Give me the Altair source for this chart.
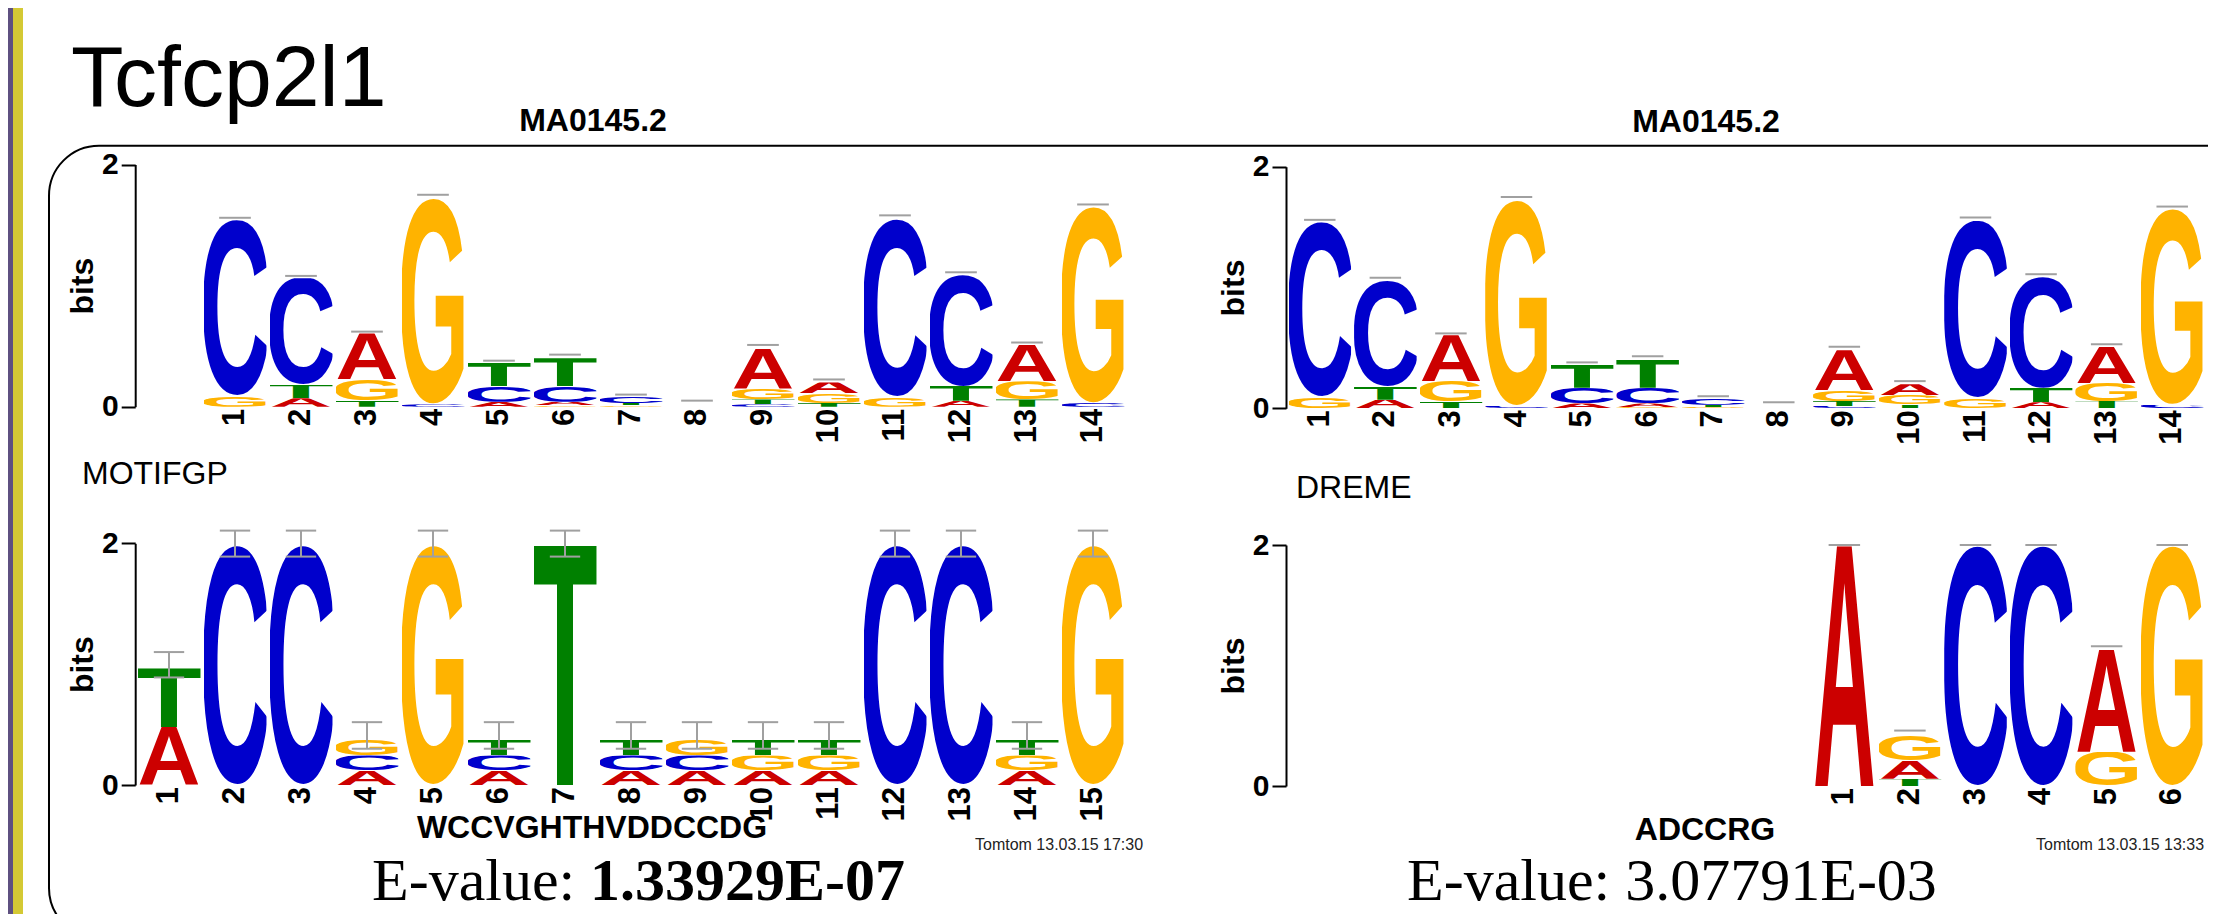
import base64
import altair as alt
import pandas as pd

# ---------------- data ----------------
LETTERS = ["A", "C", "G", "T"]

# JASPAR MA0145.2 (Tcfcp2l1) - information (bits) per letter, positions 1..14
MA_POS = list(range(1, 15))
MA_A = [0.00, 0.07, 0.38, 0.00, 0.04, 0.03, 0.00, 0.00, 0.33, 0.09, 0.00, 0.05, 0.30, 0.00]
MA_C = [1.45, 0.88, 0.00, 0.02, 0.13, 0.13, 0.05, 0.00, 0.02, 0.00, 1.47, 0.92, 0.00, 0.03]
MA_G = [0.09, 0.00, 0.17, 1.70, 0.00, 0.01, 0.01, 0.00, 0.09, 0.08, 0.08, 0.00, 0.15, 1.62]
MA_T = [0.00, 0.11, 0.055, 0.00, 0.19, 0.23, 0.02, 0.00, 0.04, 0.03, 0.00, 0.12, 0.06, 0.00]
MA_ERR = [1.56, 1.08, 0.62, 1.75, 0.38, 0.43, 0.10, 0.05, 0.51, 0.225, 1.58, 1.11, 0.53, 1.67]

# MOTIFGP query motif WCCVGHTHVDDCCDG, positions 1..15
MG_POS = list(range(1, 16))
MG_A = [0.48, 0, 0, 0.12, 0, 0.12, 0, 0.12, 0.12, 0.12, 0.12, 0, 0, 0.12, 0]
MG_C = [0, 1.98, 1.98, 0.125, 0, 0.125, 0, 0.125, 0.125, 0, 0, 1.98, 1.98, 0, 0]
MG_G = [0, 0, 0, 0.135, 1.98, 0, 0, 0, 0.13, 0.125, 0.125, 0, 0, 0.125, 1.98]
MG_T = [0.49, 0, 0, 0, 0, 0.13, 1.98, 0.13, 0, 0.13, 0.13, 0, 0, 0.13, 0]
MG_LO = [0.89, 1.89, 1.89, 0.30, 1.89, 0.30, 1.89, 0.30, 0.30, 0.30, 0.30, 1.89, 1.89, 0.30, 1.89]
MG_HI = [1.10, 2.105, 2.105, 0.52, 2.105, 0.52, 2.105, 0.52, 0.52, 0.52, 0.52, 2.105, 2.105, 0.52, 2.105]

# DREME query motif ADCCRG, positions 1..6
DR_POS = list(range(1, 7))
DR_A = [1.99, 0.15, 0, 0, 0.85, 0]
DR_C = [0, 0, 1.99, 1.99, 0, 0]
DR_G = [0, 0.21, 0, 0, 0.285, 1.99]
DR_T = [0, 0.06, 0, 0, 0, 0]
DR_ERR = [2.0, 0.46, 2.0, 2.0, 1.16, 2.0]

Y_TICKS = [0, 1, 2]

SLIDE_TITLE = "Tcfcp2l1"
TARGET_NAMES = ["MA0145.2", "MA0145.2"]
QUERY_SOURCES = ["MOTIFGP", "DREME"]
QUERY_CONSENSUS = ["WCCVGHTHVDDCCDG", "ADCCRG"]
TOMTOM_STAMPS = ["Tomtom 13.03.15 17:30", "Tomtom 13.03.15 13:33"]
EVALUE_LABEL = "E-value:"
EVALUES = ["1.33929E-07", "3.07791E-03"]

# ---------------- styling ----------------
SANS = "Liberation Sans"
SERIF = "Liberation Serif"
ERR_GRAY = "#a0a0a0"
GLYPH_COLORS = {"A": "#CC0000", "C": "#0000CC", "G": "#FFB300", "T": "#008000"}
# ink box of each bold glyph at font-size 100, centred, baseline at 0
GLYPH_BOX = {
    "A": (-36.1, 36.1, -68.8, 0.0),
    "C": (-31.6, 32.0, -70.0, 1.3),
    "G": (-34.2, 33.8, -70.0, 1.3),
    "T": (-28.3, 28.3, -68.8, 0.0),
}


def glyph_url(ch):
    x0, x1, y0, y1 = GLYPH_BOX[ch]
    svg = (
        '<svg xmlns="http://www.w3.org/2000/svg" width="100" height="100" '
        f'viewBox="{x0} {y0} {x1 - x0:.2f} {y1 - y0:.2f}" preserveAspectRatio="none">'
        f'<text x="0" y="0" text-anchor="middle" font-family="Liberation Sans, Arial, sans-serif" '
        f'font-weight="bold" font-size="100" fill="{GLYPH_COLORS[ch]}">{ch}</text></svg>'
    )
    return "data:image/svg+xml;base64," + base64.b64encode(svg.encode("utf-8")).decode("ascii")


GLYPH_URL = {ch: glyph_url(ch) for ch in LETTERS}


def stack_frame(pos, a, c, g, t):
    rows = []
    for letter, heights in zip(LETTERS, (a, c, g, t)):
        for p, h in zip(pos, heights):
            if h > 0:
                rows.append({"pos": p, "letter": letter, "bits": h, "url": GLYPH_URL[letter]})
    return pd.DataFrame(rows)


H = 906
W = 2200


def x_axis(values, zero_y):
    # labels hang just below the zero line of their own logo
    return alt.Axis(
        orient="bottom", values=values, offset=0, translate=0,
        position=0, domain=False, ticks=False, grid=False, zindex=2,
        labelAngle=270, labelFont=SANS, labelFontSize=31, labelFontWeight="bold",
        labelColor="black", labelPadding=2 + zero_y - H, labelFlush=False, labelOverlap=False,
        labelBound=False, title=None,
    )


def y_axis(x_line, mid):
    return alt.Axis(
        orient="left", values=Y_TICKS, format="d", offset=-x_line, grid=False, zindex=2,
        domainColor="black", domainWidth=2, tickColor="black", tickWidth=2, tickSize=14,
        labelFont=SANS, labelFontSize=30, labelFontWeight="bold", labelColor="black",
        labelPadding=3, title="bits", titleFont=SANS, titleFontSize=32,
        titleFontWeight="bold", titleColor="black", titleAngle=270, titleAlign="center",
        titleBaseline="middle", titleX=-53, titleY=mid,
    )


def letters_layer(df, xs, ys, xvals, zero_y, x_line):
    mid = (ys.range[0] + ys.range[1]) / 2
    return (
        alt.Chart(df)
        .transform_stack(stack="bits", groupby=["pos"], as_=["y0", "y1"],
                         sort=[alt.SortField(field="bits", order="ascending")])
        .transform_calculate(xl="datum.pos - 0.477", xr="datum.pos + 0.477")
        .mark_image(aspect=False)
        .encode(
            x=alt.X("xl:Q", scale=xs, axis=x_axis(xvals, zero_y)),
            x2="xr:Q",
            y=alt.Y("y0:Q", scale=ys, axis=y_axis(x_line, mid)),
            y2="y1:Q",
            url="url:N",
        )
    )


def caps_layer(pos, err, xs, ys, half=0.24):
    return (
        alt.Chart(pd.DataFrame({"pos": pos, "err": err}))
        .transform_calculate(xl=f"datum.pos - {half}", xr=f"datum.pos + {half}")
        .mark_rule(color=ERR_GRAY, strokeWidth=2)
        .encode(x=alt.X("xl:Q", scale=xs, axis=None), x2="xr:Q",
                y=alt.Y("err:Q", scale=ys, axis=None))
    )


# ---- top left : MA0145.2 aligned (offset one column) ----
xs_tl = alt.Scale(domain=[-0.5, 14.5], range=[128, 1118], nice=False, zero=False)
ys_tl = alt.Scale(domain=[0, 2], range=[398.7, 156.5], nice=False, zero=False)
tl_letters = letters_layer(stack_frame(MA_POS, MA_A, MA_C, MA_G, MA_T), xs_tl, ys_tl, MA_POS, 398.7, 127.2)
tl_caps = caps_layer(MA_POS, MA_ERR, xs_tl, ys_tl)

# ---- top right : MA0145.2 ----
xs_tr = alt.Scale(domain=[0.5, 14.5], range=[1279, 2197], nice=False, zero=False)
ys_tr = alt.Scale(domain=[0, 2], range=[400.3, 158.7], nice=False, zero=False)
tr_letters = letters_layer(stack_frame(MA_POS, MA_A, MA_C, MA_G, MA_T), xs_tr, ys_tr, MA_POS, 400.3, 1278)
tr_caps = caps_layer(MA_POS, MA_ERR, xs_tr, ys_tr)

# ---- bottom left : MOTIFGP query ----
xs_bl = alt.Scale(domain=[0.5, 15.5], range=[128, 1118], nice=False, zero=False)
ys_bl = alt.Scale(domain=[0, 2], range=[777.0, 535.3], nice=False, zero=False)
err_bl = pd.DataFrame({"pos": MG_POS, "lo": MG_LO, "hi": MG_HI})
bl_letters = letters_layer(stack_frame(MG_POS, MG_A, MG_C, MG_G, MG_T), xs_bl, ys_bl, MG_POS, 777.0, 127.2)
bl_stem = alt.Chart(err_bl).mark_rule(color=ERR_GRAY, strokeWidth=2).encode(
    x=alt.X("pos:Q", scale=xs_bl, axis=None),
    y=alt.Y("lo:Q", scale=ys_bl, axis=None), y2="hi:Q")
bl_caps = (
    alt.Chart(err_bl)
    .transform_fold(["lo", "hi"], as_=["end", "val"])
    .transform_calculate(xl="datum.pos - 0.23", xr="datum.pos + 0.23")
    .mark_rule(color=ERR_GRAY, strokeWidth=2)
    .encode(x=alt.X("xl:Q", scale=xs_bl, axis=None), x2="xr:Q",
            y=alt.Y("val:Q", scale=ys_bl, axis=None))
)

# ---- bottom right : DREME query (aligned under target columns 9..14) ----
xs_br = alt.Scale(domain=[-7.5, 6.5], range=[1279, 2197], nice=False, zero=False)
ys_br = alt.Scale(domain=[0, 2], range=[778.0, 537.0], nice=False, zero=False)
br_letters = letters_layer(stack_frame(DR_POS, DR_A, DR_C, DR_G, DR_T), xs_br, ys_br, DR_POS, 778.0, 1278)
br_caps = caps_layer(DR_POS, DR_ERR, xs_br, ys_br)

# ---- decorations ----
strip_purple = alt.Chart().mark_rect(color="#5e5080").encode(
    x=alt.value(0), x2=alt.value(5), y=alt.value(0), y2=alt.value(H))
strip_yellow = alt.Chart().mark_rect(color="#d4c934").encode(
    x=alt.value(5), x2=alt.value(15), y=alt.value(0), y2=alt.value(H))
frame = alt.Chart().mark_rect(cornerRadius=50, fillOpacity=0, stroke="black", strokeWidth=2).encode(
    x=alt.value(41), x2=alt.value(2300), y=alt.value(137.7), y2=alt.value(930))


def label(text, x, y, size, weight="normal", align="left", font=SANS, color="black"):
    return alt.Chart().mark_text(
        font=font, fontSize=size, fontWeight=weight, align=align, baseline="alphabetic", color=color
    ).encode(x=alt.value(x), y=alt.value(y), text=alt.value(text))


texts = [
    label(SLIDE_TITLE, 63, 98, 86),
    label(TARGET_NAMES[0], 585, 123, 32, "bold", "center"),
    label(TARGET_NAMES[1], 1698, 124, 32, "bold", "center"),
    label(QUERY_SOURCES[0], 74, 476, 32),
    label(QUERY_SOURCES[1], 1288, 490, 32),
    label(QUERY_CONSENSUS[0], 584, 830, 32, "bold", "center"),
    label(QUERY_CONSENSUS[1], 1697, 832, 32, "bold", "center"),
    label(TOMTOM_STAMPS[0], 967, 842, 16, color="#222222"),
    label(TOMTOM_STAMPS[1], 2028, 842, 16, color="#222222"),
    label(EVALUE_LABEL, 364, 892, 60, font=SERIF),
    label(EVALUES[0], 582, 892, 60, "bold", font=SERIF),
    label(EVALUE_LABEL + " " + EVALUES[1], 1399, 892, 60, font=SERIF),
]

chart = (
    alt.layer(
        strip_purple, strip_yellow, frame,
        tl_letters, tl_caps, tr_letters, tr_caps,
        bl_letters, bl_stem, bl_caps, br_letters, br_caps,
        *texts,
    )
    .resolve_scale(x="independent", y="independent")
    .properties(width=W, height=H, padding=0, autosize=alt.AutoSizeParams(type="none"),
                background="white")
    .configure_view(strokeWidth=0)
)

chart.save("out.html", embed_options={"renderer": "svg", "actions": False})
